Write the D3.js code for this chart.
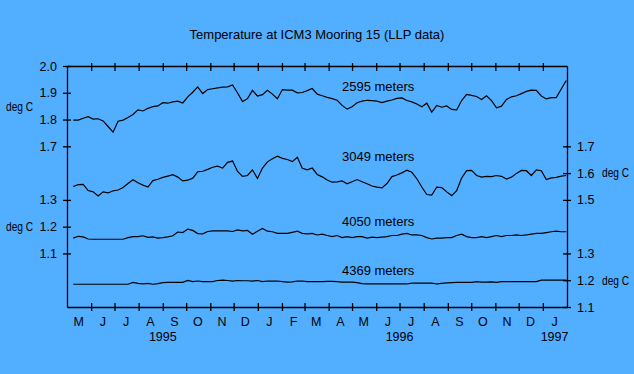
<!DOCTYPE html>
<html lang="en">
  <head>
    <meta charset="UTF-8" />
    <title>Temperature at ICM3 Mooring 15</title>
    <script src="https://d3js.org/d3.v7.min.js"></script>
    <style>
      body { margin: 0; background: #52aeff; }
      svg { display: block; font-family: "Liberation Sans", Arial, sans-serif; }
    </style>
  </head>
  <body>
    <svg></svg>
    <script>
      var width = 634;
      var height = 374;
      var margin = { top: 66, right: 67, bottom: 67, left: 67 };

      // sampling of the records (every ~6.4 days, May 1995 - Jan 1997)
      var startDate = new Date(1995, 4, 9);
      var endDate = new Date(1997, 0, 31);
      var nSamples = 100;

      // deg C
      var t2595 = [
        1.798, 1.798, 1.805, 1.811, 1.802, 1.803, 1.795, 1.774, 1.753, 1.794,
        1.798, 1.808, 1.819, 1.836, 1.832, 1.842, 1.848, 1.851, 1.863, 1.861,
        1.866, 1.869, 1.862, 1.885, 1.902, 1.922, 1.897, 1.912, 1.915, 1.918,
        1.921, 1.922, 1.929, 1.899, 1.867, 1.878, 1.909, 1.888, 1.893, 1.909,
        1.895, 1.878, 1.912, 1.910, 1.910, 1.900, 1.901, 1.908, 1.916, 1.895,
        1.889, 1.883, 1.878, 1.872, 1.853, 1.839, 1.848, 1.863, 1.869, 1.872,
        1.871, 1.869, 1.863, 1.869, 1.873, 1.879, 1.881, 1.871, 1.866, 1.858,
        1.848, 1.861, 1.828, 1.853, 1.846, 1.851, 1.838, 1.836, 1.871, 1.894,
        1.890, 1.886, 1.875, 1.889, 1.871, 1.844, 1.850, 1.875, 1.885, 1.889,
        1.897, 1.905, 1.910, 1.909, 1.888, 1.877, 1.882, 1.882, 1.914, 1.946
      ];
      var t3049 = [
        1.550, 1.557, 1.558, 1.535, 1.530, 1.515, 1.530, 1.526, 1.534, 1.537,
        1.546, 1.561, 1.575, 1.564, 1.555, 1.548, 1.572, 1.577, 1.584, 1.589,
        1.594, 1.585, 1.571, 1.574, 1.581, 1.605, 1.607, 1.614, 1.622, 1.626,
        1.619, 1.640, 1.645, 1.606, 1.588, 1.591, 1.612, 1.580, 1.619, 1.642,
        1.654, 1.663, 1.655, 1.651, 1.643, 1.659, 1.618, 1.612, 1.619, 1.595,
        1.586, 1.574, 1.566, 1.567, 1.571, 1.560, 1.568, 1.576, 1.568, 1.560,
        1.552, 1.548, 1.545, 1.561, 1.587, 1.593, 1.601, 1.611, 1.603, 1.579,
        1.548, 1.520, 1.518, 1.548, 1.546, 1.530, 1.516, 1.534, 1.582, 1.609,
        1.610, 1.591, 1.585, 1.588, 1.587, 1.591, 1.588, 1.578, 1.585, 1.599,
        1.610, 1.609, 1.591, 1.612, 1.609, 1.576, 1.582, 1.584, 1.589, 1.591
      ];
      var t4050 = [
        1.157, 1.164, 1.162, 1.154, 1.153, 1.153, 1.153, 1.153, 1.153, 1.153,
        1.153, 1.159, 1.163, 1.163, 1.166, 1.160, 1.162, 1.157, 1.159, 1.162,
        1.166, 1.180, 1.178, 1.191, 1.186, 1.174, 1.173, 1.182, 1.184, 1.184,
        1.184, 1.184, 1.182, 1.188, 1.184, 1.186, 1.172, 1.183, 1.193, 1.183,
        1.181, 1.175, 1.175, 1.175, 1.179, 1.183, 1.175, 1.173, 1.175, 1.169,
        1.172, 1.167, 1.163, 1.167, 1.159, 1.163, 1.159, 1.163, 1.163, 1.157,
        1.161, 1.159, 1.161, 1.163, 1.167, 1.167, 1.172, 1.175, 1.169, 1.169,
        1.167, 1.159, 1.154, 1.157, 1.157, 1.159, 1.159, 1.167, 1.172, 1.163,
        1.159, 1.159, 1.163, 1.159, 1.163, 1.167, 1.163, 1.167, 1.167, 1.169,
        1.167, 1.169, 1.172, 1.175, 1.175, 1.178, 1.181, 1.183, 1.181, 1.181
      ];
      var t4369 = [
        1.185, 1.185, 1.185, 1.185, 1.185, 1.185, 1.185, 1.185, 1.185, 1.185,
        1.185, 1.185, 1.192, 1.188, 1.186, 1.188, 1.185, 1.187, 1.191, 1.192,
        1.192, 1.192, 1.192, 1.199, 1.195, 1.197, 1.195, 1.195, 1.195, 1.199,
        1.200, 1.199, 1.197, 1.199, 1.198, 1.198, 1.197, 1.199, 1.195, 1.197,
        1.197, 1.197, 1.195, 1.193, 1.194, 1.197, 1.197, 1.195, 1.195, 1.195,
        1.195, 1.196, 1.196, 1.195, 1.193, 1.193, 1.193, 1.191, 1.187, 1.186,
        1.186, 1.186, 1.186, 1.186, 1.186, 1.186, 1.186, 1.186, 1.189, 1.189,
        1.189, 1.189, 1.189, 1.186, 1.188, 1.190, 1.191, 1.192, 1.192, 1.192,
        1.192, 1.195, 1.193, 1.193, 1.194, 1.192, 1.195, 1.195, 1.195, 1.195,
        1.195, 1.195, 1.195, 1.195, 1.200, 1.200, 1.200, 1.200, 1.200, 1.200
      ];

      var monthLabels = ["M", "J", "J", "A", "S", "O", "N", "D", "J", "F", "M",
        "A", "M", "J", "J", "A", "S", "O", "N", "D", "J"];
      var yearLabels = ["1995", "1996", "1997"];
      var yearDates = [new Date(1995, 8, 1), new Date(1996, 6, 1), new Date(1997, 0, 16)];

      var leftTicksA = [1.7, 1.8, 1.9, 2.0];   // 2595 m
      var leftTicksB = [1.1, 1.2, 1.3];        // 4050 m
      var rightTicksA = [1.5, 1.6, 1.7];       // 3049 m
      var rightTicksB = [1.1, 1.2, 1.3];       // 4369 m

      var sampleDates = d3.range(nSamples).map(function (i) {
        return new Date(+startDate + (i * (endDate - startDate)) / (nSamples - 1));
      });

      var svg = d3.select("svg").attr("width", width).attr("height", height);

      var x = d3
        .scaleTime()
        .domain([new Date(1995, 4, 1), new Date(1997, 1, 1)])
        .range([margin.left, width - margin.right]);

      // 2595, 3049 and 4369 m share one scale, 4050 m is shifted by 0.2
      var yA = d3.scaleLinear().domain([1.1, 2.0]).range([height - margin.bottom, margin.top]);
      var yB = d3.scaleLinear().domain([0.9, 1.8]).range([height - margin.bottom, margin.top]);

      var monthStarts = d3.timeMonth.range(new Date(1995, 5, 1), new Date(1997, 0, 2));
      var monthMids = d3.timeMonth
        .range(new Date(1995, 4, 1), new Date(1997, 0, 2))
        .map(function (d) { return d3.timeDay.offset(d, 15); });

      svg.append("text")
        .attr("x", 317)
        .attr("y", 39)
        .attr("text-anchor", "middle")
        .style("font-size", "13px")
        .text("Temperature at ICM3 Mooring 15 (LLP data)");

      // frame + ticks
      var gBottom = svg.append("g")
        .attr("transform", `translate(0, ${height - margin.bottom})`)
        .call(d3.axisBottom(x).tickValues(monthStarts).tickFormat("").tickSizeOuter(0));
      gBottom.selectAll(".tick line").attr("y1", -4).attr("y2", 4);

      var gTop = svg.append("g")
        .attr("transform", `translate(0, ${margin.top})`)
        .call(d3.axisTop(x).tickValues(monthStarts).tickFormat("").tickSizeOuter(0));
      gTop.selectAll(".tick line").attr("y1", -3).attr("y2", 5);

      function leftAxis(scale, ticks) {
        var g = svg.append("g")
          .attr("transform", `translate(${margin.left}, 0)`)
          .call(d3.axisLeft(scale).tickValues(ticks).tickFormat(d3.format(".1f")).tickSizeOuter(0));
        g.selectAll(".tick line").attr("x1", -4).attr("x2", 4);
        g.selectAll(".tick text").attr("x", -10);
        return g;
      }
      function rightAxis(scale, ticks) {
        var g = svg.append("g")
          .attr("transform", `translate(${width - margin.right}, 0)`)
          .call(d3.axisRight(scale).tickValues(ticks).tickFormat(d3.format(".1f")).tickSizeOuter(0));
        g.selectAll(".tick line").attr("x1", -4).attr("x2", 4);
        g.selectAll(".tick text").attr("x", 10);
        return g;
      }
      leftAxis(yA, leftTicksA);
      leftAxis(yB, leftTicksB).select(".domain").remove();
      rightAxis(yA, rightTicksA);
      rightAxis(yA, rightTicksB).select(".domain").remove();

      svg.selectAll(".domain").attr("stroke-width", 1.3);
      svg.selectAll(".tick line").attr("stroke-width", 1.3);
      svg.selectAll(".tick text")
        .style("font-size", "12.5px")
        .style("font-family", "'Liberation Sans', Arial, sans-serif")
        .attr("fill", "#000");

      // month and year labels
      svg.append("g")
        .selectAll("text")
        .data(monthLabels)
        .join("text")
        .attr("x", (d, i) => x(monthMids[i]))
        .attr("y", 326)
        .attr("text-anchor", "middle")
        .style("font-size", "12.5px")
        .text((d) => d);

      svg.append("g")
        .selectAll("text")
        .data(yearLabels)
        .join("text")
        .attr("x", (d, i) => x(yearDates[i]))
        .attr("y", 341)
        .attr("text-anchor", "middle")
        .style("font-size", "12.5px")
        .text((d) => d);

      // deg C units
      var units = [
        { v: 1.85, s: yA, x: 6 },
        { v: 1.2, s: yB, x: 6 },
        { v: 1.6, s: yA, x: 602 },
        { v: 1.2, s: yA, x: 602 }
      ];
      svg.append("g")
        .selectAll("text")
        .data(units)
        .join("text")
        .attr("x", (d) => d.x)
        .attr("y", (d) => d.s(d.v))
        .attr("dy", "0.35em")
        .attr("textLength", 27)
        .attr("lengthAdjust", "spacingAndGlyphs")
        .style("font-size", "12.5px")
        .text("deg C");

      // records
      var series = [
        { name: "2595 meters", values: t2595, y: yA },
        { name: "3049 meters", values: t3049, y: yA },
        { name: "4050 meters", values: t4050, y: yB },
        { name: "4369 meters", values: t4369, y: yA }
      ];
      var labelLevels = [1.922, 1.662, 1.218, 1.237];

      series.forEach(function (s, k) {
        var line = d3.line()
          .x((d, i) => x(sampleDates[i]))
          .y((d) => s.y(d));
        svg.append("path")
          .datum(s.values)
          .attr("fill", "none")
          .attr("stroke", "#000")
          .attr("stroke-width", 1.2)
          .attr("d", line);
        svg.append("text")
          .attr("x", 342)
          .attr("y", s.y(labelLevels[k]))
          .attr("dy", "0.35em")
          .style("font-size", "13px")
          .text(s.name);
      });
    </script>
  </body>
</html>
